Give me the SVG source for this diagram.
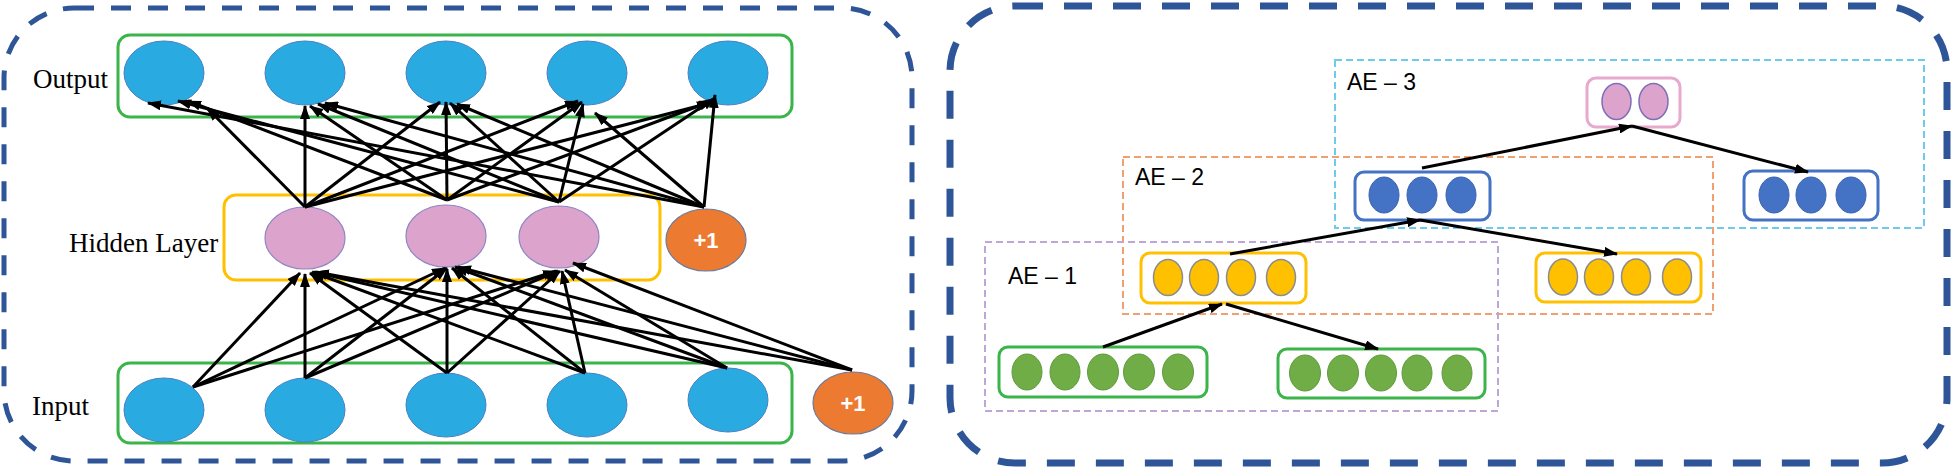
<svg xmlns="http://www.w3.org/2000/svg" width="1955" height="469" viewBox="0 0 1955 469">
<style>
.frameL{fill:none;stroke:#2e5597;stroke-width:5;stroke-dasharray:20 17}
.frameR{fill:none;stroke:#2e5597;stroke-width:7;stroke-dasharray:28 21}
.gbox{fill:none;stroke:#3bb44a;stroke-width:3}
.ybox{fill:none;stroke:#ffc000;stroke-width:3}
.pbox{fill:none;stroke:#e8a9cf;stroke-width:3}
.bbox{fill:none;stroke:#4472c4;stroke-width:3}
.outn{fill:#29abe2;stroke:#4a7fc4;stroke-width:1}
.hidn{fill:#dca3cc;stroke:#8f86c4;stroke-width:1.2}
.bias{fill:#ec7a30;stroke:#6b7b9b;stroke-width:1.2}
.biast{font-family:"Liberation Sans",Arial,sans-serif;font-weight:bold;font-size:22px;fill:#fff;text-anchor:middle}
.lbl{font-family:"Liberation Serif","Times New Roman",serif;font-size:27px;fill:#000}
.ae{font-family:"Liberation Sans",Arial,sans-serif;font-size:23px;fill:#000}
.ae3{fill:none;stroke:#6fcbec;stroke-width:2;stroke-dasharray:7 4}
.ae2{fill:none;stroke:#f0a070;stroke-width:2;stroke-dasharray:7 4}
.ae1{fill:none;stroke:#bea6d6;stroke-width:2;stroke-dasharray:7 4}
.pe{fill:#dca3cc;stroke:#7d6fb8;stroke-width:1.5}
.be{fill:#4472c4;stroke:#3a62b0;stroke-width:1}
.ye{fill:#ffc000;stroke:#8c8c8c;stroke-width:1.5}
.ge{fill:#70ad47;stroke:#5e9c3c;stroke-width:1}
.conn line{stroke:#000;stroke-width:3;marker-end:url(#ah)}
</style>
<defs>
<marker id="ah" markerUnits="userSpaceOnUse" markerWidth="14" markerHeight="10" refX="13" refY="5" orient="auto">
<path d="M0,0 L14,5 L0,10 z" fill="#000"/>
</marker>
</defs>
<rect width="1955" height="469" fill="#fff"/>

<!-- frames -->
<rect class="frameL" x="4" y="8" width="908" height="453" rx="70"/>
<rect class="frameR" x="950" y="6" width="997" height="457" rx="65"/>

<!-- LEFT PANEL -->
<g id="output-layer">
<rect class="gbox" x="118" y="35" width="674" height="82" rx="12"/>
<text class="lbl" x="33" y="88">Output</text>
</g>
<g id="out1"><ellipse class="outn" cx="164" cy="73" rx="40" ry="32"/></g>
<g id="out2"><ellipse class="outn" cx="305" cy="73" rx="40" ry="32"/></g>
<g id="out3"><ellipse class="outn" cx="446" cy="73" rx="40" ry="32"/></g>
<g id="out4"><ellipse class="outn" cx="587" cy="73" rx="40" ry="32"/></g>
<g id="out5"><ellipse class="outn" cx="728" cy="73" rx="40" ry="32"/></g>

<g id="hidden-layer">
<rect class="ybox" x="224" y="195" width="436" height="85" rx="12"/>
<text class="lbl" x="69" y="252">Hidden Layer</text>
</g>
<g id="hid1"><ellipse class="hidn" cx="305" cy="238" rx="40" ry="31"/></g>
<g id="hid2"><ellipse class="hidn" cx="446" cy="236" rx="40" ry="31"/></g>
<g id="hid3"><ellipse class="hidn" cx="559" cy="237" rx="40" ry="31"/></g>
<g id="hbias"><ellipse class="bias" cx="706" cy="240" rx="40" ry="31"/><text class="biast" x="706" y="248">+1</text></g>

<g id="input-layer">
<rect class="gbox" x="118" y="363" width="674" height="80" rx="12"/>
<text class="lbl" x="32" y="415">Input</text>
</g>
<g id="in1"><ellipse class="outn" cx="164" cy="410" rx="40" ry="32"/></g>
<g id="in2"><ellipse class="outn" cx="305" cy="410" rx="40" ry="32"/></g>
<g id="in3"><ellipse class="outn" cx="446" cy="405" rx="40" ry="32"/></g>
<g id="in4"><ellipse class="outn" cx="587" cy="405" rx="40" ry="32"/></g>
<g id="in5"><ellipse class="outn" cx="728" cy="400" rx="40" ry="32"/></g>
<g id="ibias"><ellipse class="bias" cx="853" cy="403" rx="40" ry="31"/><text class="biast" x="853" y="411">+1</text></g>

<!-- RIGHT PANEL -->
<g id="ae3">
<rect class="ae3" x="1335" y="60" width="589" height="168"/>
<text class="ae" x="1347" y="90">AE – 3</text>
</g>
<g id="ae2">
<rect class="ae2" x="1123" y="157" width="590" height="157"/>
<text class="ae" x="1135" y="185">AE – 2</text>
</g>
<g id="ae1">
<rect class="ae1" x="985" y="242" width="513" height="169"/>
<text class="ae" x="1008" y="284">AE – 1</text>
</g>

<g id="code3">
<rect class="pbox" x="1587" y="78" width="93" height="49" rx="9"/>
<ellipse class="pe" cx="1616.5" cy="101.5" rx="14.5" ry="18"/>
<ellipse class="pe" cx="1653.5" cy="101.5" rx="14.5" ry="18"/>
</g>
<g id="code2">
<rect class="bbox" x="1355" y="172" width="135" height="48" rx="9"/>
<ellipse class="be" cx="1384" cy="195" rx="15" ry="18"/>
<ellipse class="be" cx="1422" cy="195" rx="15" ry="18"/>
<ellipse class="be" cx="1461" cy="195" rx="15" ry="18"/>
</g>
<g id="recon3">
<rect class="bbox" x="1744" y="171" width="134" height="49" rx="9"/>
<ellipse class="be" cx="1774" cy="195" rx="15" ry="18"/>
<ellipse class="be" cx="1811" cy="195" rx="15" ry="18"/>
<ellipse class="be" cx="1851" cy="195" rx="15" ry="18"/>
</g>
<g id="code1">
<rect class="ybox" x="1141" y="253" width="165" height="50" rx="9"/>
<ellipse class="ye" cx="1168" cy="277.5" rx="14.5" ry="18"/>
<ellipse class="ye" cx="1204" cy="277.5" rx="14.5" ry="18"/>
<ellipse class="ye" cx="1241" cy="277.5" rx="14.5" ry="18"/>
<ellipse class="ye" cx="1281" cy="277.5" rx="14.5" ry="18"/>
</g>
<g id="recon2">
<rect class="ybox" x="1536" y="253" width="165" height="49" rx="9"/>
<ellipse class="ye" cx="1563" cy="277" rx="14.5" ry="18"/>
<ellipse class="ye" cx="1599" cy="277" rx="14.5" ry="18"/>
<ellipse class="ye" cx="1636" cy="277" rx="14.5" ry="18"/>
<ellipse class="ye" cx="1677" cy="277" rx="14.5" ry="18"/>
</g>
<g id="input1">
<rect class="gbox" x="999" y="347" width="208" height="50" rx="9"/>
<ellipse class="ge" cx="1027" cy="372" rx="15" ry="18"/>
<ellipse class="ge" cx="1065" cy="372" rx="15" ry="18"/>
<ellipse class="ge" cx="1103" cy="372" rx="15.5" ry="18"/>
<ellipse class="ge" cx="1139" cy="372" rx="15.5" ry="18"/>
<ellipse class="ge" cx="1178" cy="372" rx="15.5" ry="18"/>
</g>
<g id="recon1">
<rect class="gbox" x="1278" y="349" width="207" height="49" rx="9"/>
<ellipse class="ge" cx="1305" cy="373" rx="15.5" ry="18"/>
<ellipse class="ge" cx="1343" cy="373" rx="15.5" ry="18"/>
<ellipse class="ge" cx="1381" cy="373" rx="15.5" ry="18"/>
<ellipse class="ge" cx="1417" cy="373" rx="15" ry="18"/>
<ellipse class="ge" cx="1457" cy="373" rx="15" ry="18"/>
</g>

<!-- CONNECTORS -->
<g id="connectors" class="conn">
<!-- hidden -> output -->
<line x1="305" y1="207" x2="207" y2="108"/>
<line x1="305" y1="207" x2="305" y2="106"/>
<line x1="305" y1="207" x2="440" y2="102"/>
<line x1="305" y1="207" x2="578" y2="101"/>
<line x1="305" y1="207" x2="710" y2="103"/>
<line x1="447" y1="200" x2="188" y2="101"/>
<line x1="447" y1="200" x2="310" y2="106"/>
<line x1="447" y1="200" x2="446" y2="102"/>
<line x1="447" y1="200" x2="582" y2="102"/>
<line x1="447" y1="200" x2="712" y2="101"/>
<line x1="559" y1="202" x2="178" y2="101"/>
<line x1="559" y1="202" x2="318" y2="104"/>
<line x1="559" y1="202" x2="450" y2="103"/>
<line x1="559" y1="202" x2="583" y2="104"/>
<line x1="559" y1="202" x2="715" y2="98"/>
<line x1="704" y1="207" x2="148" y2="103"/>
<line x1="704" y1="207" x2="325" y2="103"/>
<line x1="704" y1="207" x2="457" y2="104"/>
<line x1="704" y1="207" x2="595" y2="113"/>
<line x1="704" y1="207" x2="715" y2="95"/>
<!-- input -> hidden -->
<line x1="193" y1="387" x2="300" y2="273"/>
<line x1="193" y1="387" x2="445" y2="268"/>
<line x1="193" y1="387" x2="556" y2="271"/>
<line x1="305" y1="378" x2="305" y2="274"/>
<line x1="305" y1="378" x2="447" y2="268"/>
<line x1="305" y1="378" x2="558" y2="271"/>
<line x1="447" y1="373" x2="310" y2="273"/>
<line x1="447" y1="373" x2="447" y2="269"/>
<line x1="447" y1="373" x2="560" y2="271"/>
<line x1="585" y1="373" x2="312" y2="272"/>
<line x1="585" y1="373" x2="452" y2="268"/>
<line x1="585" y1="373" x2="562" y2="271"/>
<line x1="727" y1="368" x2="314" y2="272"/>
<line x1="727" y1="368" x2="455" y2="267"/>
<line x1="727" y1="368" x2="565" y2="270"/>
<line x1="852" y1="370" x2="316" y2="272"/>
<line x1="852" y1="370" x2="458" y2="267"/>
<line x1="852" y1="370" x2="573" y2="263"/>
<!-- stacked autoencoder -->
<line x1="1103" y1="347" x2="1222" y2="304"/>
<line x1="1226" y1="304" x2="1378" y2="349"/>
<line x1="1230" y1="254" x2="1420" y2="220"/>
<line x1="1420" y1="220" x2="1617" y2="254"/>
<line x1="1422" y1="168" x2="1632" y2="126"/>
<line x1="1632" y1="126" x2="1808" y2="172"/>
</g>
</svg>
